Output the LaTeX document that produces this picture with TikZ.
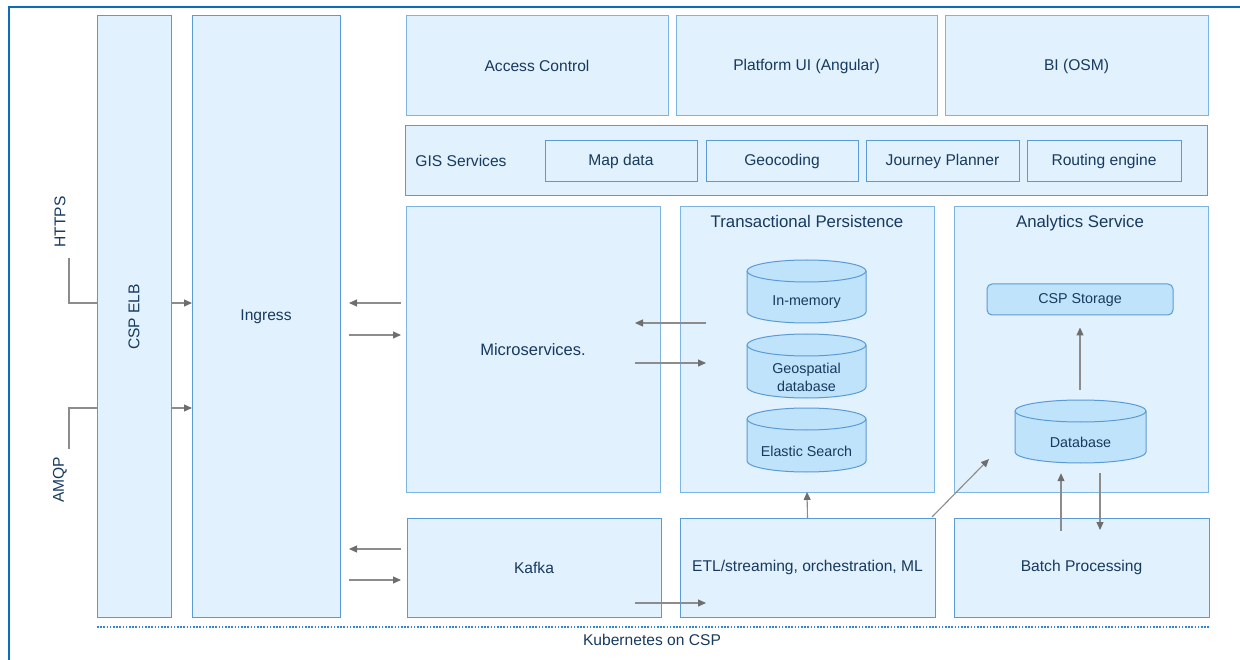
\documentclass[tikz,border=0pt]{standalone}
\usepackage{fontspec}
\setmainfont{Liberation Sans}
\usetikzlibrary{arrows.meta,calc}
\definecolor{boxfill}{HTML}{E1F1FD}
\definecolor{boxline}{HTML}{5B9BD5}
\definecolor{boxlinelt}{HTML}{7DB4E3}
\definecolor{cylfill}{HTML}{BFE3FB}
\definecolor{txt}{HTML}{173A5E}
\definecolor{framec}{HTML}{0A6EBD}
\definecolor{arrgray}{HTML}{8C8C8C}
\definecolor{arrhead}{HTML}{6E6E6E}
\definecolor{dotc}{HTML}{2F86D6}
\newcommand\rbox[6]{\node[box, minimum width=#4-#2, minimum height=#5-#3] (#1) at (#2,#3) {#6};}
\newcommand\cylnode[7]{%
  \path[draw=boxline, fill=cylfill, line width=1pt] (#2-#5,#3+11) -- (#2-#5,#4-11)
    arc[start angle=180,end angle=360,x radius=#5pt,y radius=11pt] -- (#2+#5,#3+11)
    arc[start angle=0,end angle=180,x radius=#5pt,y radius=11pt] -- cycle;
  \draw[boxline, line width=1pt] (#2-#5,#3+11) arc[start angle=180,end angle=360,x radius=#5pt,y radius=11pt];
  \node[inner sep=0pt, minimum width=2*#5, minimum height=#4-#3] (#1) at (#2,{(#3+#4)/2}) {};
  \node[smalltxt, align=center] (#6) at (#2,{(#3+22+#4)/2}) {#7};}
\begin{document}
\begin{tikzpicture}[x=1pt,y=-1pt,
  box/.style={draw=boxline, fill=boxfill, line width=1pt, inner sep=0pt, outer sep=0pt,
    anchor=north west, font=\fontsize{15.6}{18}\selectfont, text=txt},
  boxlt/.style={box, draw=boxlinelt},
  lbl/.style={text=txt, font=\fontsize{15.6}{18}\selectfont, inner sep=0pt},
  titletxt/.style={text=txt, font=\fontsize{16.8}{19}\selectfont, inner sep=0pt},
  smalltxt/.style={text=txt, font=\fontsize{14.3}{18}\selectfont, inner sep=0pt},
  conn/.style={draw=arrgray, line width=1.1pt},
  arr/.style={conn, -{Triangle[length=8pt,width=7pt,color=arrhead]}}]
\useasboundingbox (0,0) rectangle (1240,660);
% outer frame
\draw[framec, line width=2.4pt] (9,662) -- (9,7) -- (1242,7);
% left column
\rbox{elb}{97}{16}{171}{617}{}
\rbox{ingress}{192}{16}{340}{617}{}
\node[lbl, rotate=90] (elbtxt) at (134,317) {CSP ELB};
\node[lbl] (ingtxt) at (266,317) {Ingress};
% top row
\node[boxlt, minimum width=262, minimum height=100] (access) at (406,16) {Access Control};
\node[boxlt, minimum width=261, minimum height=100] (platform) at (676,16) {Platform UI (Angular)};
\node[boxlt, minimum width=263, minimum height=100] (bi) at (945,16) {BI (OSM)};
% GIS
\rbox{gis}{405}{126}{1207}{196}{}
\node[lbl] (gistxt) at (461,161) {GIS Services};
\rbox{mapdata}{545}{141}{697}{182}{Map data}
\rbox{geocoding}{706}{141}{858}{182}{Geocoding}
\rbox{journey}{866}{141}{1019}{182}{Journey Planner}
\rbox{routing}{1027}{141}{1181}{182}{Routing engine}
% middle row
\node[boxlt, minimum width=254, minimum height=285, font=\fontsize{16.5}{19}\selectfont] (micro) at (406,207) {Microservices.};
\node[boxlt, minimum width=254, minimum height=285] (tp) at (680,207) {};
\node[boxlt, minimum width=254, minimum height=285] (an) at (954,207) {};
\node[titletxt, anchor=base] (tptitle) at (807,228) {Transactional Persistence};
\node[titletxt, anchor=base] (antitle) at (1080,228) {Analytics Service};
\cylnode{inmem}{806.5}{260}{323}{59.5}{inmemtxt}{In-memory}
\cylnode{geo}{806.5}{334}{398}{59.5}{geotxt}{Geospatial\\database}
\cylnode{elastic}{806.5}{408}{472}{59.5}{elastictxt}{Elastic Search}
\cylnode{db}{1080.5}{400}{463}{65.5}{dbtxt}{Database}
\node[draw=boxline, fill=cylfill, line width=1pt, rounded corners=5pt, minimum width=186, minimum height=31, inner sep=0pt, smalltxt] (storage) at (1080,299.5) {CSP Storage};
% bottom row
\rbox{kafka}{407}{518}{661}{617}{Kafka}
\rbox{etl}{680}{518}{935}{617}{ETL/streaming, orchestration, ML}
\rbox{batch}{954}{518}{1209}{617}{Batch Processing}
% kubernetes
\draw[dotc, line width=1.8pt, dash pattern=on 1.6pt off 1.6pt] (elb.south west |- 0,627) -- (batch.south east |- 0,627);
\node[lbl] (k8s) at (652,640) {Kubernetes on CSP};
% protocols
\node[lbl, rotate=90] (https) at (60,222) {HTTPS};
\node[lbl, rotate=90] (amqp) at (60,480) {AMQP};
\coordinate (hs) at (69,258);
\coordinate (as) at (69,449);
\draw[conn] (hs) |- (elb.west |- 0,303);
\draw[conn] (as) |- (elb.west |- 0,408);
% connectors
\draw[arr] (elb.east |- 0,303) -- (ingress.west |- 0,303);
\draw[arr] (elb.east |- 0,408) -- (ingress.west |- 0,408);
\draw[arr] ($(micro.west |- 0,303)+(-5,0)$) -- ($(ingress.east |- 0,303)+(9,0)$);
\draw[arr] ($(ingress.east |- 0,335)+(9,0)$) -- ($(micro.west |- 0,335)+(-5,0)$);
\draw[arr] ($(tp.west |- 0,323)+(26,0)$) -- ($(micro.east |- 0,323)+(-25,0)$);
\draw[arr] ($(micro.east |- 0,363)+(-25,0)$) -- ($(tp.west |- 0,363)+(26,0)$);
\draw[arr] ($(kafka.west |- 0,549)+(-6,0)$) -- ($(ingress.east |- 0,549)+(9,0)$);
\draw[arr] ($(ingress.east |- 0,580)+(9,0)$) -- ($(kafka.west |- 0,580)+(-6,0)$);
\draw[arr] ($(kafka.east |- 0,603)+(-26,0)$) -- ($(etl.west |- 0,603)+(26,0)$);
\draw[arr] (etl.north) -- (tp.south);
\draw[arr] ($(etl.north east)+(-3,-1)$) -- ($(an.south west)+(35,-33)$);
\draw[arr] ($(db.north)+(-0.5,-10)$) -- ($(storage.south)+(0,12)$);
\draw[arr] ($(batch.north)+(-20.5,13)$) -- ($(db.south)+(-19.5,10)$);
\draw[arr] ($(db.south)+(19.5,10)$) -- ($(batch.north)+(18.5,12)$);
\end{tikzpicture}
\end{document}
